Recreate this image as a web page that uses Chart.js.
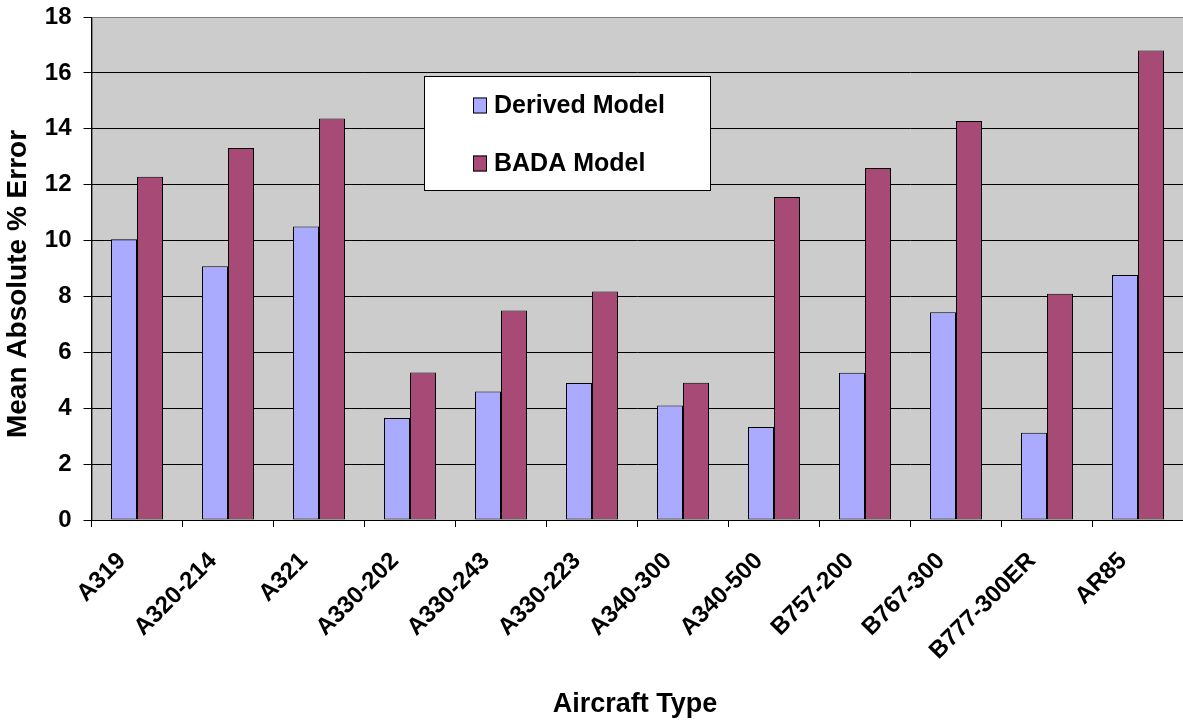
<!DOCTYPE html>
<html>
<head>
<meta charset="utf-8">
<script src="https://cdn.jsdelivr.net/npm/chart.js@4/dist/chart.umd.min.js"></script>
<style>
  body { margin: 0; background: #fff; overflow: hidden; }
  #wrap { width: 1188px; height: 726px; }
</style>
</head>
<body>
<div id="wrap"><canvas id="chart" width="1188" height="726"></canvas></div>
<script>
// Data
const categories = ['A319', 'A320-214', 'A321', 'A330-202', 'A330-243', 'A330-223',
  'A340-300', 'A340-500', 'B757-200', 'B767-300', 'B777-300ER', 'AR85'];
const derivedModel = [10.05, 9.08, 10.5, 3.65, 4.6, 4.9, 4.1, 3.33, 5.27, 7.43, 3.12, 8.77];
const badaModel = [12.28, 13.31, 14.37, 5.28, 7.5, 8.18, 4.91, 11.56, 12.6, 14.28, 8.1, 16.8];
const yTicks = [0, 2, 4, 6, 8, 10, 12, 14, 16, 18];
const xTitle = 'Aircraft Type';
const yTitle = 'Mean Absolute % Error';

const FONT = '"Liberation Sans", Arial, sans-serif';

// Grey plot area
const plotBackground = {
  id: 'plotBackground',
  beforeDraw(chart) {
    const { ctx, chartArea: a } = chart;
    const left = Math.round(a.left), right = Math.round(a.right);
    ctx.save();
    ctx.fillStyle = '#CCCCCC';
    ctx.fillRect(left, a.top, right - left, a.bottom - a.top);
    ctx.strokeStyle = '#808080';
    ctx.lineWidth = 1;
    ctx.strokeRect(left + 0.5, a.top + 0.5, right - left, a.bottom - a.top);
    ctx.restore();
  }
};

// Axis titles (placed like the Excel original, not centred on the axes)
const axisTitles = {
  id: 'axisTitles',
  afterDraw(chart) {
    const ctx = chart.ctx;
    ctx.save();
    ctx.fillStyle = '#000';
    ctx.font = 'bold 28px ' + FONT;
    ctx.textAlign = 'center';
    ctx.textBaseline = 'middle';
    ctx.translate(18, 284);
    ctx.rotate(-Math.PI / 2);
    ctx.fillText(yTitle, 0, 0);
    ctx.restore();

    ctx.save();
    ctx.fillStyle = '#000';
    ctx.font = 'bold 27px ' + FONT;
    ctx.textAlign = 'center';
    ctx.textBaseline = 'middle';
    ctx.fillText(xTitle, 635, 705);
    ctx.restore();
  }
};

// Boxed legend inside the plot
const boxLegend = {
  id: 'boxLegend',
  afterDraw(chart) {
    const ctx = chart.ctx;
    const x = 424, y = 76, w = 286, h = 114;
    ctx.save();
    ctx.fillStyle = '#fff';
    ctx.fillRect(x, y, w, h);
    ctx.strokeStyle = '#000';
    ctx.lineWidth = 1;
    ctx.strokeRect(x + 0.5, y + 0.5, w, h);
    ctx.font = 'bold 25px ' + FONT;
    ctx.textBaseline = 'middle';
    chart.data.datasets.forEach((ds, i) => {
      const cy = 105.5 + i * 58;
      ctx.fillStyle = ds.backgroundColor;
      ctx.fillRect(473, cy - 8, 14, 16);
      ctx.strokeStyle = '#000';
      ctx.strokeRect(473.5, cy - 7.5, 13, 15);
      ctx.fillStyle = '#000';
      ctx.fillText(ds.label, 494, cy + 1);
    });
    ctx.restore();
  }
};

const ctx = document.getElementById('chart').getContext('2d');
new Chart(ctx, {
  type: 'bar',
  data: {
    labels: categories,
    datasets: [
      {
        label: 'Derived Model',
        data: derivedModel,
        backgroundColor: '#AAABFF',
        borderColor: '#000',
        borderWidth: 1,
        borderSkipped: false
      },
      {
        label: 'BADA Model',
        data: badaModel,
        backgroundColor: '#A84A76',
        borderColor: '#000',
        borderWidth: 1,
        borderSkipped: false
      }
    ]
  },
  options: {
    responsive: false,
    animation: false,
    devicePixelRatio: 1,
    layout: { padding: { top: 17, right: 4.5, bottom: 4, left: 0 } },
    datasets: { bar: { categoryPercentage: 52 / 91, barPercentage: 1.0 } },
    plugins: {
      legend: { display: false },
      tooltip: { enabled: false }
    },
    scales: {
      x: {
        offset: true,
        grid: {
          offset: true,
          drawOnChartArea: false,
          drawTicks: true,
          tickLength: 7,
          tickColor: '#000'
        },
        border: { color: '#000', width: 1 },
        ticks: {
          color: '#000',
          font: { family: FONT, size: 24, weight: 'bold' },
          minRotation: 45,
          maxRotation: 45,
          autoSkip: false,
          padding: 20,
          labelOffset: -15
        },
        title: { display: false, text: xTitle },
        afterFit(scale) {
          scale.height = 202;
          scale.paddingLeft = 0;
          scale.paddingRight = 0;
        }
      },
      y: {
        min: 0,
        max: 18,
        afterBuildTicks(scale) { scale.ticks = yTicks.map(v => ({ value: v })); },
        grid: {
          color: (c) => (c.tick && c.tick.value === 18 ? '#808080' : '#000'),
          tickColor: '#000',
          tickLength: 8,
          lineWidth: 1
        },
        border: { color: '#000', width: 1 },
        ticks: {
          color: '#000',
          font: { family: FONT, size: 24, weight: 'bold' },
          padding: 12
        },
        title: { display: false, text: yTitle },
        afterFit(scale) {
          scale.width = 91.5;
          scale.paddingTop = 0;
          scale.paddingBottom = 0;
        }
      }
    }
  },
  plugins: [plotBackground, axisTitles, boxLegend]
});
</script>
</body>
</html>
